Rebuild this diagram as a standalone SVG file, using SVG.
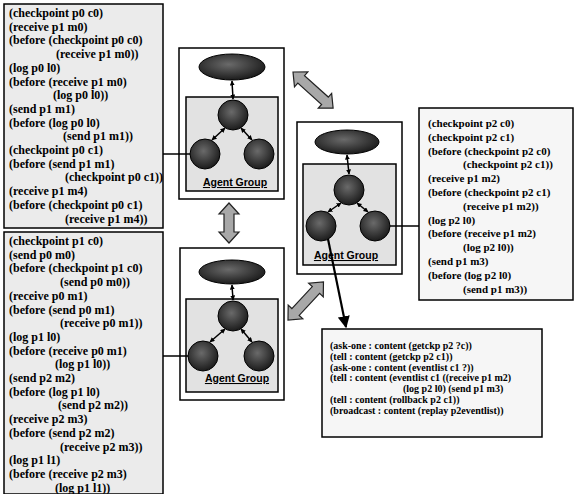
<svg xmlns="http://www.w3.org/2000/svg" width="576" height="494" viewBox="0 0 576 494">
<style>
.box{stroke:#000;stroke-width:1.5}
.lt{fill:#ebebeb}
.rt{fill:#f6f6f6}
.t{font-family:"Liberation Serif","Times New Roman",serif;font-weight:bold;fill:#000}
.l{font-size:12px}
.r{font-size:11px}
.b{font-size:10px}
.outer{fill:#fff;stroke:#000;stroke-width:1.5}
.inner{fill:#e2e2e2;stroke:#000;stroke-width:1.5}
.node{fill:#2b2b2b;stroke:#000;stroke-width:1}
.agent{font-family:"Liberation Sans",Arial,sans-serif;font-weight:bold;font-size:10.5px;text-decoration:underline;text-anchor:middle;fill:#000}
.thin{stroke:#000;stroke-width:1.5;fill:none}
.small{stroke:#000;stroke-width:1.5;fill:none;marker-start:url(#sa);marker-end:url(#sa)}
.big{fill:#a8a8a8;stroke:#222;stroke-width:1.2}
</style>
<defs>
<marker id="sa" viewBox="0 0 10 10" refX="9" refY="5" markerWidth="5" markerHeight="5" orient="auto-start-reverse" markerUnits="userSpaceOnUse"><path d="M0,0 L10,5 L0,10 z" fill="#000"/></marker>
<marker id="ba" viewBox="0 0 10 10" refX="9" refY="5" markerWidth="12" markerHeight="12" orient="auto" markerUnits="userSpaceOnUse"><path d="M0,0 L10,5 L0,10 z" fill="#000"/></marker>
<radialGradient id="g" cx="0.45" cy="0.4" r="0.6"><stop offset="0" stop-color="#6a6a6a"/><stop offset="1" stop-color="#1c1c1c"/></radialGradient>
</defs>

<g id="log-p0">
<rect class="box lt" x="4" y="4" width="159" height="224"/>
<text class="t l">
<tspan x="9" y="17">(checkpoint p0 c0)</tspan>
<tspan x="9" y="30.7">(receive p1 m0)</tspan>
<tspan x="9" y="44.4">(before (checkpoint p0 c0)</tspan>
<tspan x="56" y="58.1">(receive p1 m0))</tspan>
<tspan x="9" y="71.8">(log p0 l0)</tspan>
<tspan x="9" y="85.5">(before (receive p1 m0)</tspan>
<tspan x="53" y="99.2">(log p0 l0))</tspan>
<tspan x="9" y="112.9">(send p1 m1)</tspan>
<tspan x="9" y="126.6">(before (log p0 l0)</tspan>
<tspan x="63" y="140.3">(send p1 m1))</tspan>
<tspan x="9" y="154">(checkpoint p0 c1)</tspan>
<tspan x="9" y="167.7">(before (send p1 m1)</tspan>
<tspan x="65" y="181.4">(checkpoint p0 c1))</tspan>
<tspan x="9" y="195.1">(receive p1 m4)</tspan>
<tspan x="9" y="208.8">(before (checkpoint p0 c1)</tspan>
<tspan x="65" y="222.5">(receive p1 m4))</tspan>
</text>
</g>

<g id="log-p1">
<rect class="box lt" x="4" y="232" width="159" height="262"/>
<text class="t l">
<tspan x="9" y="245">(checkpoint p1 c0)</tspan>
<tspan x="9" y="258.7">(send p0 m0)</tspan>
<tspan x="9" y="272.4">(before (checkpoint p1 c0)</tspan>
<tspan x="60" y="286.1">(send p0 m0))</tspan>
<tspan x="9" y="299.8">(receive p0 m1)</tspan>
<tspan x="9" y="313.5">(before (send p0 m1)</tspan>
<tspan x="60" y="327.2">(receive p0 m1))</tspan>
<tspan x="9" y="340.9">(log p1 l0)</tspan>
<tspan x="9" y="354.6">(before (receive p0 m1)</tspan>
<tspan x="55" y="368.3">(log p1 l0))</tspan>
<tspan x="9" y="382">(send p2 m2)</tspan>
<tspan x="9" y="395.7">(before (log p1 l0)</tspan>
<tspan x="58" y="409.4">(send p2 m2))</tspan>
<tspan x="9" y="423.1">(receive p2 m3)</tspan>
<tspan x="9" y="436.8">(before (send p2 m2)</tspan>
<tspan x="60" y="450.5">(receive p2 m3))</tspan>
<tspan x="9" y="464.2">(log p1 l1)</tspan>
<tspan x="9" y="477.9">(before (receive p2 m3)</tspan>
<tspan x="55" y="491.6">(log p1 l1))</tspan>
</text>
</g>

<g id="log-p2">
<rect class="box rt" x="419" y="108" width="154" height="192"/>
<text class="t r">
<tspan x="428" y="127">(checkpoint p2 c0)</tspan>
<tspan x="428" y="140.8">(checkpoint p2 c1)</tspan>
<tspan x="428" y="154.6">(before (checkpoint p2 c0)</tspan>
<tspan x="463" y="168.4">(checkpoint p2 c1))</tspan>
<tspan x="428" y="182.2">(receive p1 m2)</tspan>
<tspan x="428" y="196">(before (checkpoint p2 c1)</tspan>
<tspan x="463" y="209.8">(receive p1 m2))</tspan>
<tspan x="428" y="223.6">(log p2 l0)</tspan>
<tspan x="428" y="237.4">(before (receive p1 m2)</tspan>
<tspan x="463" y="251.2">(log p2 l0))</tspan>
<tspan x="428" y="265">(send p1 m3)</tspan>
<tspan x="428" y="278.8">(before (log p2 l0)</tspan>
<tspan x="463" y="292.6">(send p1 m3))</tspan>
</text>
</g>

<g id="messages">
<rect class="box rt" x="322" y="329" width="220" height="108"/>
<text class="t b">
<tspan x="330" y="349">(ask-one : content (getckp p2 ?c))</tspan>
<tspan x="330" y="359.8">(tell : content (getckp p2 c1))</tspan>
<tspan x="330" y="370.6">(ask-one : content (eventlist c1 ?))</tspan>
<tspan x="330" y="381.4">(tell : content (eventlist c1 ((receive p1 m2)</tspan>
<tspan x="403" y="392.2">(log p2 l0) (send p1 m3)</tspan>
<tspan x="330" y="403">(tell : content (rollback p2 c1))</tspan>
<tspan x="330" y="413.8">(broadcast : content (replay p2eventlist))</tspan>
</text>
</g>

<g id="group-p0">
<rect class="outer" x="179" y="48" width="105" height="151"/>
<ellipse class="node" fill="url(#g)" cx="232" cy="67" rx="33" ry="13" style="fill:url(#g)"/>
<rect class="inner" x="186" y="97" width="92" height="94"/>
<circle class="node" style="fill:url(#g)" cx="233" cy="115" r="15"/>
<circle class="node" style="fill:url(#g)" cx="205" cy="154" r="15"/>
<circle class="node" style="fill:url(#g)" cx="259" cy="154" r="15"/>
<text class="agent" x="235" y="186">Agent Group</text>
</g>

<g id="group-p1">
<rect class="outer" x="180" y="248" width="104" height="152"/>
<ellipse class="node" style="fill:url(#g)" cx="232" cy="272" rx="33" ry="12"/>
<rect class="inner" x="186" y="299" width="92" height="93"/>
<circle class="node" style="fill:url(#g)" cx="233" cy="316" r="15"/>
<circle class="node" style="fill:url(#g)" cx="203" cy="356" r="15"/>
<circle class="node" style="fill:url(#g)" cx="259" cy="356" r="15"/>
<text class="agent" x="237" y="382">Agent Group</text>
</g>

<g id="group-p2">
<rect class="outer" x="297" y="122" width="105" height="152"/>
<ellipse class="node" style="fill:url(#g)" cx="347" cy="142" rx="32" ry="12"/>
<rect class="inner" x="303" y="164" width="93" height="101"/>
<circle class="node" style="fill:url(#g)" cx="349" cy="190" r="15"/>
<circle class="node" style="fill:url(#g)" cx="321" cy="226" r="15"/>
<circle class="node" style="fill:url(#g)" cx="375" cy="226" r="15"/>
<text class="agent" x="346" y="259">Agent Group</text>
</g>

<g id="connectors">
<line class="thin" x1="163" y1="154" x2="190" y2="154"/>
<line class="thin" x1="163" y1="356" x2="188" y2="356"/>
<line class="thin" x1="390" y1="226" x2="419" y2="226"/>
<line class="small" x1="232" y1="81" x2="233" y2="99"/>
<line class="small" x1="225" y1="128" x2="212" y2="140"/>
<line class="small" x1="241" y1="128" x2="252" y2="140"/>
<line class="small" x1="232" y1="285" x2="233" y2="300"/>
<line class="small" x1="225" y1="329" x2="210" y2="342"/>
<line class="small" x1="241" y1="329" x2="252" y2="342"/>
<line class="small" x1="347" y1="155" x2="349" y2="174"/>
<line class="small" x1="341" y1="203" x2="328" y2="212"/>
<line class="small" x1="357" y1="203" x2="368" y2="212"/>
<line x1="328" y1="239" x2="346" y2="327" stroke="#000" stroke-width="2.2" marker-end="url(#ba)"/>
<polygon class="big" transform="translate(229,203) rotate(90)" points="0,0 11,-10 11,-5 29,-5 29,-10 40,0 29,10 29,5 11,5 11,10"/>
<polygon class="big" transform="translate(293,72) rotate(42)" points="0,0 11,-10 11,-5 43,-5 43,-10 54,0 43,10 43,5 11,5 11,10"/>
<polygon class="big" transform="translate(288,320) rotate(-47)" points="0,0 11,-10 11,-5 41,-5 41,-10 52,0 41,10 41,5 11,5 11,10"/>
</g>
</svg>
